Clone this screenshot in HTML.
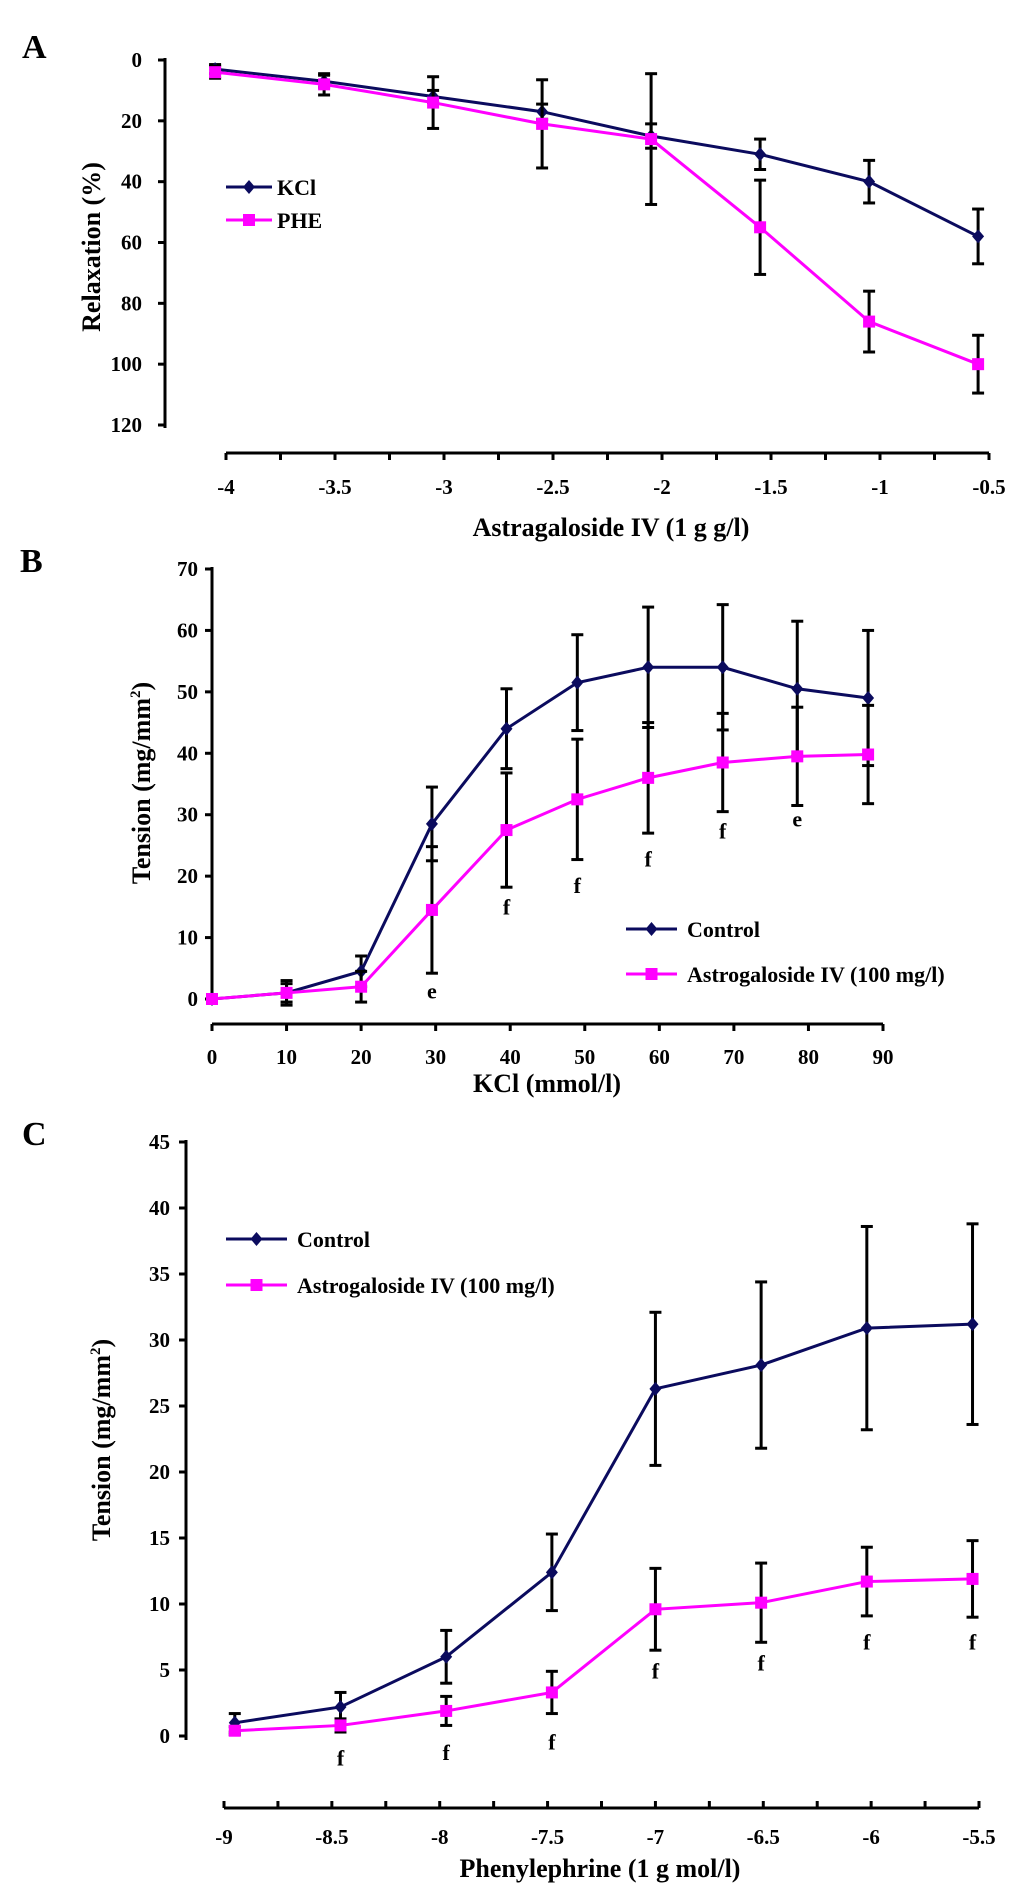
<!DOCTYPE html>
<html><head><meta charset="utf-8"><style>
html,body{margin:0;padding:0;background:#fff;}
svg{display:block;font-family:"Liberation Serif",serif;font-weight:bold;}
</style></head><body>
<svg id="chart" width="1033" height="1889" viewBox="0 0 1033 1889" xmlns="http://www.w3.org/2000/svg">
<text x="22" y="58" font-size="34">A</text>
<text x="20" y="572" font-size="34">B</text>
<text x="22" y="1145" font-size="34">C</text>
</svg>
<script>
// ---- Panel A data ----
const aX = [-4.05,-3.55,-3.05,-2.55,-2.05,-1.55,-1.05,-0.55];
const aKCl = [3,7,12,17,25,31,40,58];
const aKClErr = [1.5,2,2,2.5,4,5,7,9];
const aPHE = [4,8,14,21,26,55,86,100];
const aPHEErr = [2,3.5,8.5,14.5,21.5,15.5,10,9.5];
const aXTicks = [-4,-3.5,-3,-2.5,-2,-1.5,-1,-0.5];
const aXTickLabels = ["-4","-3.5","-3","-2.5","-2","-1.5","-1","-0.5"];
const aYTicks = [0,20,40,60,80,100,120];
// ---- Panel B data ----
const bX = [0,10,20,29.5,39.5,49,58.5,68.5,78.5,88];
const bCtrl = [0,1,4.5,28.5,44,51.5,54,54,50.5,49];
const bCtrlErr = [0,2,2.5,6,6.5,7.8,9.8,10.2,11,11];
const bAst = [0,1,2,14.5,27.5,32.5,36,38.5,39.5,39.8];
const bAstErr = [0,1.5,2.5,10.3,9.3,9.8,9,8,8,8];
const bXTicks = [0,10,20,30,40,50,60,70,80,90];
const bYTicks = [0,10,20,30,40,50,60,70];
const bNoteX = [29.5,39.5,49,58.5,68.5,78.5];
const bNoteY = [1.2,14.9,18.4,22.7,27.3,29.2];
const bNoteText = ["e","f","f","f","f","e"];
// ---- Panel C data ----
const cX = [-8.95,-8.46,-7.97,-7.48,-7.0,-6.51,-6.02,-5.53];
const cCtrl = [1,2.2,6,12.4,26.3,28.1,30.9,31.2];
const cCtrlErr = [0.7,1.1,2,2.9,5.8,6.3,7.7,7.6];
const cAst = [0.4,0.8,1.9,3.3,9.6,10.1,11.7,11.9];
const cAstErr = [0.3,0.5,1.1,1.6,3.1,3,2.6,2.9];
const cXTicks = [-9,-8.5,-8,-7.5,-7,-6.5,-6,-5.5];
const cXTickLabels = ["-9","-8.5","-8","-7.5","-7","-6.5","-6","-5.5"];
const cYTicks = [0,5,10,15,20,25,30,35,40,45];
const cNoteX = [-8.46,-7.97,-7.48,-7.0,-6.51,-6.02,-5.53];
const cNoteY = [-1.7,-1.3,-0.5,4.9,5.5,7.1,7.1];

const NS="http://www.w3.org/2000/svg";
const svg=document.getElementById('chart');
const NAVY="#0b0b5e", MAG="#ff00ff";
const TICK=21, TITLE=26, LEG=22;
function mk(tag,attrs,parent){const e=document.createElementNS(NS,tag);for(const k in attrs)e.setAttribute(k,attrs[k]);(parent||svg).appendChild(e);return e;}
function lin(d0,d1,p0,p1){return v=>p0+(v-d0)*(p1-p0)/(d1-d0);}
function line(x1,y1,x2,y2,w,c,g){return mk('line',{x1,y1,x2,y2,stroke:c||'#000','stroke-width':w||3},g);}
function txt(x,y,s,size,anchor,g){const t=mk('text',{x,y,'font-size':size,'text-anchor':anchor||'middle'},g);t.textContent=s;return t;}

function series(g,fx,fy,xs,ys,errs,color,marker,name){
  const eg=mk('g',{},g);
  
  
  xs.forEach((x,i)=>{ if(!errs[i])return;
    const px=fx(x),t=fy(ys[i]-errs[i]),b=fy(ys[i]+errs[i]);
    line(px,t,px,b,3,'#000',eg);line(px-6,t,px+6,t,3,'#000',eg);line(px-6,b,px+6,b,3,'#000',eg);});
  const pts=xs.map((x,i)=>fx(x)+','+fy(ys[i])).join(' ');
  const pl=mk('polyline',{points:pts,fill:'none',stroke:color,'stroke-width':3},g);
  
  
  xs.forEach((x,i)=>{
    const px=fx(x),py=fy(ys[i]);let m;
    if(marker==='d') m=mk('polygon',{points:`${px},${py-7} ${px+6},${py} ${px},${py+7} ${px-6},${py}`,fill:color},g);
    else m=mk('rect',{x:px-6,y:py-6,width:12,height:12,fill:color},g);
    
    
  });
}
function legend(g,x1,x2,tx,y,color,marker,label,name){
  const lg=mk('g',{},g);
  
  
  line(x1,y,x2,y,3,color,lg);const cx=(x1+x2)/2;
  if(marker==='d') mk('polygon',{points:`${cx},${y-7} ${cx+6},${y} ${cx},${y+7} ${cx-6},${y}`,fill:color},lg);
  else mk('rect',{x:cx-6,y:y-6,width:12,height:12,fill:color},lg);
  txt(tx,y+8,label,LEG,'start',lg);
}

// ===== Panel A =====
(function(){
  const g=mk('g',{});
  
  
  const fx=lin(-4,-0.5,226,989), fy=lin(0,120,60,425);
  const ya=mk('g',{},g);
  
  
  line(165,58,165,428,3,'#000',ya);
  aYTicks.forEach(v=>{line(158,fy(v),165,fy(v),3,'#000',ya);txt(142,fy(v)+7,String(v),TICK,'end',ya);});
  const xa=mk('g',{},g);
  
  
  line(fx(-4),453,fx(-0.5),453,3,'#000',xa);
  for(let v=-4;v<=-0.5+1e-9;v+=0.25) line(fx(v),453,fx(v),460,3,'#000',xa);
  aXTicks.forEach((v,i)=>txt(fx(v),494,aXTickLabels[i],TICK,'middle',xa));
  const xt=txt(611,536,'Astragaloside IV (1 g g/l)',TITLE,'middle',g);
  
  
  const yt=txt(0,0,'Relaxation (%)',TITLE,'middle',g);
  yt.setAttribute('transform','translate(100,247) rotate(-90)');
  
  
  series(g,fx,fy,aX,aKCl,aKClErr,NAVY,'d','kcl');
  series(g,fx,fy,aX,aPHE,aPHEErr,MAG,'s','phe');
  legend(g,226,272,277,187,NAVY,'d','KCl','legend-kcl');
  legend(g,226,272,277,220,MAG,'s','PHE','legend-phe');
})();

// ===== Panel B =====
(function(){
  const g=mk('g',{});
  
  
  const fx=lin(0,90,212,883), fy=lin(0,70,999,569);
  const ya=mk('g',{},g);
  
  
  line(212,567,212,1001,3,'#000',ya);
  bYTicks.forEach(v=>{line(205,fy(v),212,fy(v),3,'#000',ya);txt(198,fy(v)+7,String(v),TICK,'end',ya);});
  const xa=mk('g',{},g);
  
  
  line(fx(0),1024,fx(90),1024,3,'#000',xa);
  bXTicks.forEach(v=>{line(fx(v),1024,fx(v),1031,3,'#000',xa);txt(fx(v),1064,String(v),TICK,'middle',xa);});
  const xt=txt(547,1092,'KCl (mmol/l)',TITLE,'middle',g);
  
  
  const yt=mk('text',{'font-size':TITLE,'text-anchor':'middle',transform:'translate(150,783) rotate(-90)'},g);
  yt.innerHTML='Tension (mg/mm<tspan font-size="15" dy="-10">2</tspan><tspan dy="10">)</tspan>';
  
  
  series(g,fx,fy,bX,bCtrl,bCtrlErr,NAVY,'d','control');
  series(g,fx,fy,bX,bAst,bAstErr,MAG,'s','astragaloside');
  bNoteX.forEach((x,i)=>{const t=txt(fx(x),fy(bNoteY[i])+7,bNoteText[i],22,'middle',g);
    
    });
  legend(g,626,677,687,929,NAVY,'d','Control','legend-control');
  legend(g,626,677,687,974,MAG,'s','Astrogaloside IV (100 mg/l)','legend-astragaloside');
})();

// ===== Panel C =====
(function(){
  const g=mk('g',{});
  
  
  const fx=lin(-9,-5.5,224,979), fy=lin(0,45,1736,1142);
  const ya=mk('g',{},g);
  
  
  line(186,1140,186,1740,3,'#000',ya);
  cYTicks.forEach(v=>{line(179,fy(v),186,fy(v),3,'#000',ya);txt(170,fy(v)+7,String(v),TICK,'end',ya);});
  const xa=mk('g',{},g);
  
  
  line(fx(-9),1808,fx(-5.5),1808,3,'#000',xa);
  for(let v=-9;v<=-5.5+1e-9;v+=0.25) line(fx(v),1801,fx(v),1808,3,'#000',xa);
  cXTicks.forEach((v,i)=>txt(fx(v),1844,cXTickLabels[i],TICK,'middle',xa));
  const xt=txt(600,1877,'Phenylephrine (1 g mol/l)',TITLE,'middle',g);
  
  
  const yt=mk('text',{'font-size':TITLE,'text-anchor':'middle',transform:'translate(110,1440) rotate(-90)'},g);
  yt.innerHTML='Tension (mg/mm<tspan font-size="15" dy="-10">2</tspan><tspan dy="10">)</tspan>';
  
  
  series(g,fx,fy,cX,cCtrl,cCtrlErr,NAVY,'d','control-c');
  series(g,fx,fy,cX,cAst,cAstErr,MAG,'s','astragaloside-c');
  cNoteX.forEach((x,i)=>{const t=txt(fx(x),fy(cNoteY[i])+7,'f',22,'middle',g);
    
    });
  legend(g,226,287,297,1239,NAVY,'d','Control','legend-control-c');
  legend(g,226,287,297,1285,MAG,'s','Astrogaloside IV (100 mg/l)','legend-astragaloside-c');
})();
</script>
</body></html>
